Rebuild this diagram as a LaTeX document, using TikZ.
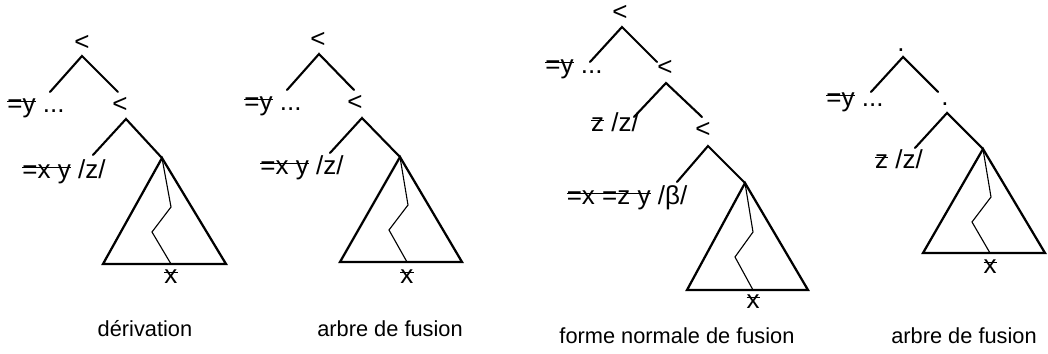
\documentclass[tikz,border=0pt]{standalone}
\usepackage{fontspec}
\setmainfont{Liberation Sans}
\usetikzlibrary{positioning}
\newsavebox{\barbox}
% struck-through text
\newcommand{\barre}[1]{\sbox{\barbox}{#1}\rlap{\rule[0.42em]{\wd\barbox}{0.7pt}}\usebox{\barbox}}
\tikzset{
	catnode/.style={inner sep=0pt, font=\fontsize{18.5}{22}\selectfont},
	leaf/.style={inner sep=0pt, anchor=mid, font=\fontsize{18.5}{22}\selectfont},
	caption/.style={inner sep=0pt, anchor=mid, font=\fontsize{15.5}{18}\selectfont},
	branch/.style={line width=1.5pt, line cap=round},
	tri/.style={line width=1.6pt, line join=miter},
	chain/.style={line width=0.8pt},
}
\begin{document}
\begin{tikzpicture}[x=0.025cm, y=-0.025cm]
\useasboundingbox (0,0) rectangle (1048,354);
% tree 1 : derivation
\node[catnode] (c11) at (82,43) {<};
\node[catnode] (c12) at (120,105) {<};
\node[leaf] (y1) at (36,109) {\barre{=y} ...};
\node[leaf] (z1) at (64,175) {\barre{=x y} /z/};
\coordinate (a11) at (82,56);  \coordinate (l11) at (50,92);  \coordinate (r11) at (118,92);
\coordinate (a12) at (126,119); \coordinate (l12) at (93,155); \coordinate (t1) at (162,158);
\coordinate (bl1) at (103,264); \coordinate (br1) at (226,264);
\coordinate (k1a) at (171,207); \coordinate (k1b) at (152,232); \coordinate (e1) at (171,264);
\node[leaf] (x1) at (171,280) {\barre{x}};
\draw[branch] (l11) -- (a11) -- (r11);
\draw[branch] (l12) -- (a12) -- (t1);
\draw[tri] (t1) -- (bl1) -- (br1) -- cycle;
\draw[chain] (t1) -- (k1a) -- (k1b) -- (e1);
\node[caption] (cap1) at (145,333) {dérivation};
% tree 2 : arbre de fusion
\node[catnode] (c21) at (318,40) {<};
\node[catnode] (c22) at (355,103) {<};
\node[leaf] (y2) at (273,107) {\barre{=y} ...};
\node[leaf] (z2) at (302,171) {\barre{=x y} /z/};
\coordinate (a21) at (319,54);  \coordinate (l21) at (287,90);  \coordinate (r21) at (354,90);
\coordinate (a22) at (362,118); \coordinate (l22) at (330,153); \coordinate (t2) at (400,157);
\coordinate (bl2) at (340,262); \coordinate (br2) at (462,262);
\coordinate (k2a) at (408,205); \coordinate (k2b) at (389,230); \coordinate (e2) at (407,262);
\node[leaf] (x2) at (407,280) {\barre{x}};
\draw[branch] (l21) -- (a21) -- (r21);
\draw[branch] (l22) -- (a22) -- (t2);
\draw[tri] (t2) -- (bl2) -- (br2) -- cycle;
\draw[chain] (t2) -- (k2a) -- (k2b) -- (e2);
\node[caption] (cap2) at (390,333) {arbre de fusion};
% tree 3 : forme normale
\node[catnode] (c31) at (620,13) {<};
\node[catnode] (c32) at (665,68) {<};
\node[catnode] (c33) at (703,130) {<};
\node[leaf] (y3) at (574,70) {\barre{=y} ...};
\node[leaf] (w3) at (615,128) {\barre{z} /z/};
\node[leaf] (z3) at (627,201) {\barre{=x =z y} /β/};
\coordinate (a31) at (622,27);  \coordinate (l31) at (590,62);  \coordinate (r31) at (657,62);
\coordinate (a32) at (666,83);  \coordinate (l32) at (634,117); \coordinate (r32) at (702,117);
\coordinate (a33) at (708,146); \coordinate (l33) at (677,182); \coordinate (t3) at (745,183);
\coordinate (bl3) at (687,290); \coordinate (br3) at (808,290);
\coordinate (k3a) at (753,232); \coordinate (k3b) at (735,257); \coordinate (e3) at (753,290);
\node[leaf] (x3) at (753,305) {\barre{x}};
\draw[branch] (l31) -- (a31) -- (r31);
\draw[branch] (l32) -- (a32) -- (r32);
\draw[branch] (l33) -- (a33) -- (t3);
\draw[tri] (t3) -- (bl3) -- (br3) -- cycle;
\draw[chain] (t3) -- (k3a) -- (k3b) -- (e3);
\node[caption] (cap3) at (677,340) {forme normale de fusion};
% tree 4 : arbre de fusion
\node[catnode, anchor=base] (c41) at (901,52) {.};
\node[catnode, anchor=base] (c42) at (945,106) {.};
\node[leaf] (y4) at (855,103) {\barre{=y} ...};
\node[leaf] (w4) at (899,165) {\barre{z} /z/};
\coordinate (a41) at (903,57);  \coordinate (l41) at (871,92);  \coordinate (r41) at (938,92);
\coordinate (a42) at (947,113); \coordinate (l42) at (915,148); \coordinate (t4) at (983,149);
\coordinate (bl4) at (923,253); \coordinate (br4) at (1045,253);
\coordinate (k4a) at (991,197); \coordinate (k4b) at (972,222); \coordinate (e4) at (990,253);
\node[leaf] (x4) at (990,270) {\barre{x}};
\draw[branch] (l41) -- (a41) -- (r41);
\draw[branch] (l42) -- (a42) -- (t4);
\draw[tri] (t4) -- (bl4) -- (br4) -- cycle;
\draw[chain] (t4) -- (k4a) -- (k4b) -- (e4);
\node[caption] (cap4) at (964,340) {arbre de fusion};
\end{tikzpicture}
\end{document}
